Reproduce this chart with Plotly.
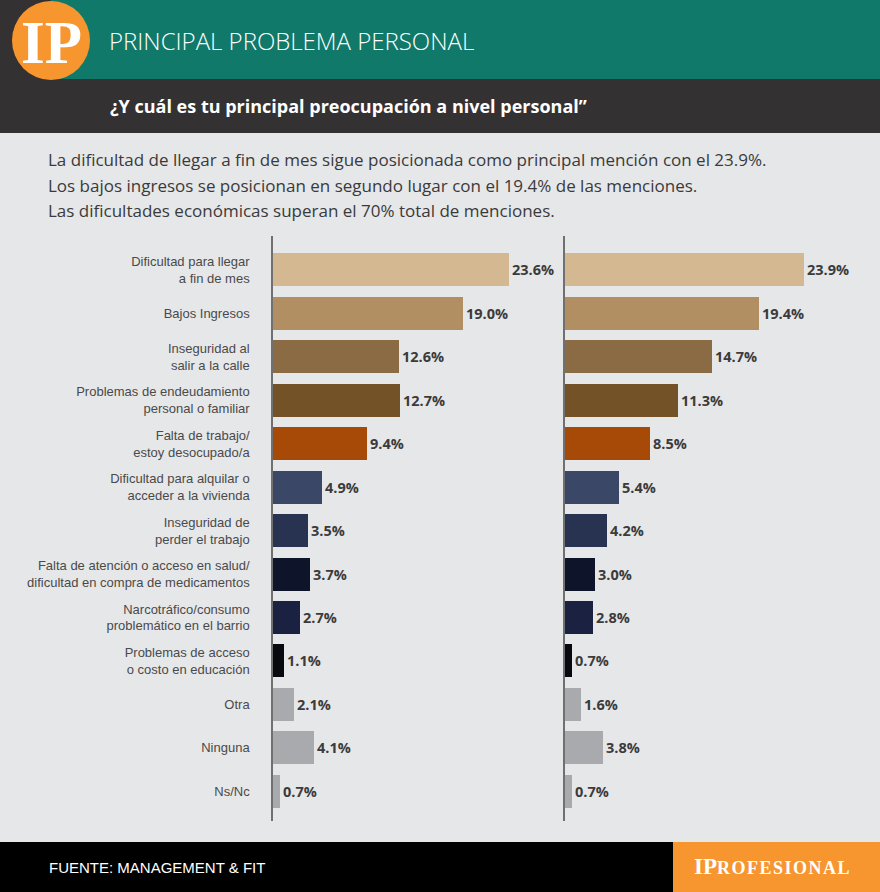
import plotly.graph_objects as go

W, H = 880, 892

categorias = [
    "Dificultad para llegar<br>a fin de mes",
    "Bajos Ingresos",
    "Inseguridad al<br>salir a la calle",
    "Problemas de endeudamiento<br>personal o familiar",
    "Falta de trabajo/<br>estoy desocupado/a",
    "Dificultad para alquilar o<br>acceder a la vivienda",
    "Inseguridad de<br>perder el trabajo",
    "Falta de atención o acceso en salud/<br>dificultad en compra de medicamentos",
    "Narcotráfico/consumo<br>problemático en el barrio",
    "Problemas de acceso<br>o costo en educación",
    "Otra",
    "Ninguna",
    "Ns/Nc",
]
serie_izq = [23.6, 19.0, 12.6, 12.7, 9.4, 4.9, 3.5, 3.7, 2.7, 1.1, 2.1, 4.1, 0.7]
serie_der = [23.9, 19.4, 14.7, 11.3, 8.5, 5.4, 4.2, 3.0, 2.8, 0.7, 1.6, 3.8, 0.7]
colores = ["#D4B892", "#B28F62", "#8B6B43", "#735228", "#A84A07",
           "#3A4767", "#283352", "#0E1429", "#1B2241", "#08090F",
           "#A9AAAD", "#A9AAAD", "#A9AAAD"]

titulo = "PRINCIPAL PROBLEMA PERSONAL"
subtitulo = "¿Y cuál es tu principal preocupación a nivel personal”"
texto = [
    "La dificultad de llegar a fin de mes sigue posicionada como principal mención con el 23.9%.",
    "Los bajos ingresos se posicionan en segundo lugar con el 19.4% de las menciones.",
    "Las dificultades económicas superan el 70% total de menciones.",
]
fuente = "FUENTE: MANAGEMENT & FIT"


def px(x):
    return x / W


def py(y):
    return 1 - y / H


fig = go.Figure()
valfont = dict(family="Open Sans, sans-serif", size=14.5, color="#3b3b3b", weight="bold")
for vals, xa, ya in [(serie_izq, "x", "y"), (serie_der, "x2", "y2")]:
    fig.add_trace(go.Bar(
        y=categorias, x=vals, orientation="h", xaxis=xa, yaxis=ya,
        marker=dict(color=colores, line=dict(width=0)), width=0.76,
        text=[f"{v:.1f}%" for v in vals], textposition="outside",
        textfont=valfont, cliponaxis=False, hoverinfo="skip", showlegend=False,
    ))

y_dom = [py(821), py(236)]
y_rng = [12.683, -0.778]
label_font = dict(family="Liberation Sans Narrow, Arial Narrow, Liberation Sans, sans-serif",
                  size=13, color="#4a4a4a")

fig.update_layout(
    width=W, height=H,
    margin=dict(l=0, r=0, t=0, b=0),
    paper_bgcolor="#E6E7E9", plot_bgcolor="rgba(0,0,0,0)",
    bargap=0,
    xaxis=dict(domain=[px(273), px(553)], range=[0, 28], visible=False, anchor="y"),
    xaxis2=dict(domain=[px(565), px(865)], range=[0, 30], visible=False, anchor="y2"),
    yaxis=dict(domain=y_dom, range=y_rng, type="category", anchor="x",
               showline=True, linecolor="#707070", linewidth=1.5, ticks="",
               showgrid=False, tickfont=label_font, ticklabelstandoff=19),
    yaxis2=dict(domain=y_dom, range=y_rng, type="category", anchor="x2",
                showline=True, linecolor="#707070", linewidth=1.5, ticks="",
                showgrid=False, showticklabels=False),
)

shapes = [
    dict(type="rect", x0=px(0), x1=px(880), y0=py(133), y1=py(0), fillcolor="#343133", line_width=0),
    dict(type="rect", x0=px(51), x1=px(880), y0=py(79), y1=py(0), fillcolor="#10796A", line_width=0),
    dict(type="circle", x0=px(12), x1=px(90), y0=py(80), y1=py(1), fillcolor="#F7962F", line_width=0),
    dict(type="rect", x0=px(0), x1=px(880), y0=py(892), y1=py(842), fillcolor="#000000", line_width=0),
    dict(type="rect", x0=px(673), x1=px(880), y0=py(892), y1=py(842), fillcolor="#F7962F", line_width=0),
]
for s in shapes:
    s.update(xref="paper", yref="paper", layer="below")
fig.update_layout(shapes=shapes)

ann = []
ann.append(dict(text="<b>IP</b>", x=px(51.5), y=py(42), xanchor="center", yanchor="middle",
                font=dict(family="Liberation Serif, serif", size=61, color="#FFFFFF")))
ann.append(dict(text=titulo, x=px(107), y=py(40), xanchor="left", yanchor="middle",
                font=dict(family="Open Sans, sans-serif", size=24, color="#FFFFFF", weight=300)))
ann.append(dict(text=f"<b>{subtitulo}</b>", x=px(108), y=py(106), xanchor="left", yanchor="middle",
                font=dict(family="Open Sans, sans-serif", size=18, color="#FFFFFF")))
for i, t in enumerate(texto):
    ann.append(dict(text=t, x=px(46), y=py(160 + i * 25), xanchor="left", yanchor="middle",
                    font=dict(family="Open Sans, sans-serif", size=17, color="#3a3a3a")))
ann.append(dict(text=fuente, x=px(47), y=py(867), xanchor="left", yanchor="middle",
                font=dict(family="Liberation Sans Narrow, Liberation Sans, sans-serif", size=15, color="#FFFFFF")))
ann.append(dict(text="<b>IP<span style='font-size:18px;letter-spacing:1.5px'>ROFESIONAL</span></b>",
                x=px(772), y=py(866), xanchor="center", yanchor="middle",
                font=dict(family="Liberation Serif, serif", size=23, color="#FFFFFF")))
for a in ann:
    a.update(xref="paper", yref="paper", showarrow=False)
fig.update_layout(annotations=ann)

fig.write_html("out.html")
